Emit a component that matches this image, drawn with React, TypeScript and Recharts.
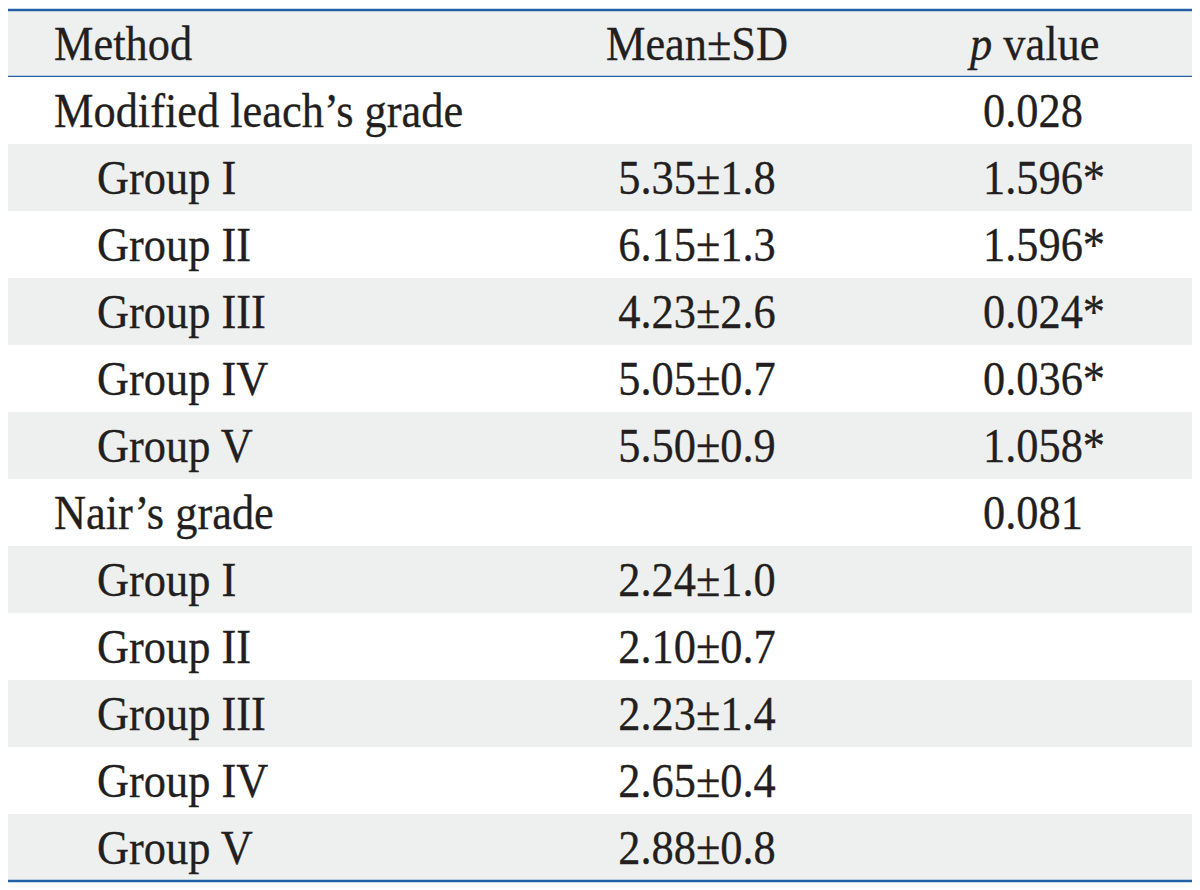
import { BarChart, Bar, XAxis, YAxis, LabelList } from 'recharts';

// table rows, top to bottom
const rowLabels = [
  'Method',
  'Modified leach’s grade',
  'Group I',
  'Group II',
  'Group III',
  'Group IV',
  'Group V',
  'Nair’s grade',
  'Group I',
  'Group II',
  'Group III',
  'Group IV',
  'Group V',
];
const meanSd = [
  'Mean±SD',
  '',
  '5.35±1.8',
  '6.15±1.3',
  '4.23±2.6',
  '5.05±0.7',
  '5.50±0.9',
  '',
  '2.24±1.0',
  '2.10±0.7',
  '2.23±1.4',
  '2.65±0.4',
  '2.88±0.8',
];
const pValues = [
  'p value',
  '0.028',
  '1.596*',
  '1.596*',
  '0.024*',
  '0.036*',
  '1.058*',
  '0.081',
  '',
  '',
  '',
  '',
  '',
];

const FONT = '"Liberation Serif", "Times New Roman", serif';
const INK = '#231f20';
const SHADE = '#eef0ef';
const RULE = '#2160a6';

const data = rowLabels.map((label, i) => ({
  key: `r${i}`,
  label,
  mean: meanSd[i],
  p: pValues[i],
  band: 1,
  shaded: i % 2 === 0,
  header: i === 0,
  indent: label.startsWith('Group'),
  last: i === rowLabels.length - 1,
}));

const Txt = ({ x, y, anchor, children }: any) => (
  <text
    transform={`translate(${x},${y}) scale(0.925,1)`}
    x={0}
    y={0}
    textAnchor={anchor}
    fontFamily={FONT}
    fontSize={48}
    fill={INK}
    stroke={INK}
    strokeWidth={0.3}
  >
    {children}
  </text>
);

const RowShape = (props: any) => {
  const { x, y, width, height, payload } = props;
  return (
    <g>
      <rect x={x} y={y} width={width} height={height} fill={payload.shaded ? SHADE : '#fff'} />
      {payload.header && (
        <>
          <line x1={x} x2={x + width} y1={y} y2={y} stroke={RULE} strokeWidth={2.5} />
          <line x1={x} x2={x + width} y1={y + height} y2={y + height} stroke={RULE} strokeWidth={2.5} />
        </>
      )}
      {payload.last && (
        <line x1={x} x2={x + width} y1={y + height} y2={y + height} stroke={RULE} strokeWidth={2.5} />
      )}
    </g>
  );
};

const labelCell = (props: any) => {
  const { x, y, value, index } = props;
  const row = data[index];
  return (
    <Txt x={x + (row.indent ? 89 : 46)} y={y + 50} anchor="start">
      {value}
    </Txt>
  );
};

const meanCell = (props: any) => {
  const { x, y, value } = props;
  if (!value) return null;
  return (
    <Txt x={x + 689} y={y + 50} anchor="middle">
      {value}
    </Txt>
  );
};

const pCell = (props: any) => {
  const { x, y, value, index } = props;
  if (!value) return null;
  if (index === 0) {
    return (
      <Txt x={x + 962} y={y + 50} anchor="start">
        <tspan fontStyle="italic">p</tspan>
        <tspan> value</tspan>
      </Txt>
    );
  }
  return (
    <Txt x={x + 975} y={y + 50} anchor="start">
      {value}
    </Txt>
  );
};

export default function App() {
  return (
    <div style={{ width: 1184, height: 876 }}>
      <BarChart
        width={1184}
        height={876}
        data={data}
        layout="vertical"
        margin={{ top: 2, right: 0, bottom: 3, left: 0 }}
        barCategoryGap={0}
        barGap={0}
      >
        <XAxis type="number" domain={[0, 1]} hide />
        <YAxis type="category" dataKey="key" hide />
        <Bar dataKey="band" isAnimationActive={false} shape={<RowShape />}>
          <LabelList dataKey="label" content={labelCell} />
          <LabelList dataKey="mean" content={meanCell} />
          <LabelList dataKey="p" content={pCell} />
        </Bar>
      </BarChart>
    </div>
  );
}
